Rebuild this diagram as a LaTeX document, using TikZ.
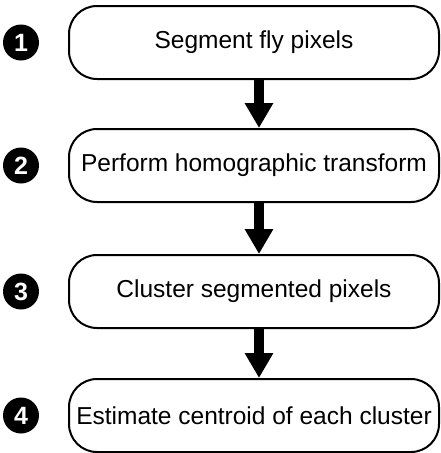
\documentclass[tikz,border=0pt]{standalone}
\usepackage{fontspec}
\setmainfont{Liberation Sans}
\usetikzlibrary{arrows.meta}

\tikzset{
  stepbox/.style={draw, line width=2pt, rounded corners=28pt,
    minimum width=370pt, minimum height=73pt, inner sep=0pt,
    font=\fontsize{24.5}{28}\selectfont},
  numdot/.style={circle, fill=black, minimum size=36pt, inner sep=0pt,
    text=white, font=\fontsize{25}{28}\selectfont\bfseries},
  flow/.style={line width=10pt, -{Triangle[width=27pt,length=25pt]}}
}

\begin{document}
\begin{tikzpicture}[x=1pt,y=1pt,yscale=-1]
\useasboundingbox (0,0) rectangle (441,453);

% steps
\node [stepbox] (seg)  at (254,42.5)  {Segment fly pixels};
\node [stepbox] (homo) at (254,165.5) {Perform homographic transform};
\node [stepbox] (clus) at (254,291.5) {Cluster segmented pixels};
\node [stepbox] (cent) at (254,415.5) {Estimate centroid of each cluster};

% numbers
\node [numdot] (n1) at (21,42.5)  {1};
\node [numdot] (n2) at (21,165.5) {2};
\node [numdot] (n3) at (21,291.5) {3};
\node [numdot] (n4) at (21,415.5) {4};

% arrows
\draw [flow] ([xshift=5pt]seg.south)  -- ([xshift=5pt]homo.north);
\draw [flow] ([xshift=5pt]homo.south) -- ([xshift=5pt]clus.north);
\draw [flow] ([xshift=5pt]clus.south) -- ([xshift=5pt]cent.north);

\end{tikzpicture}
\end{document}
